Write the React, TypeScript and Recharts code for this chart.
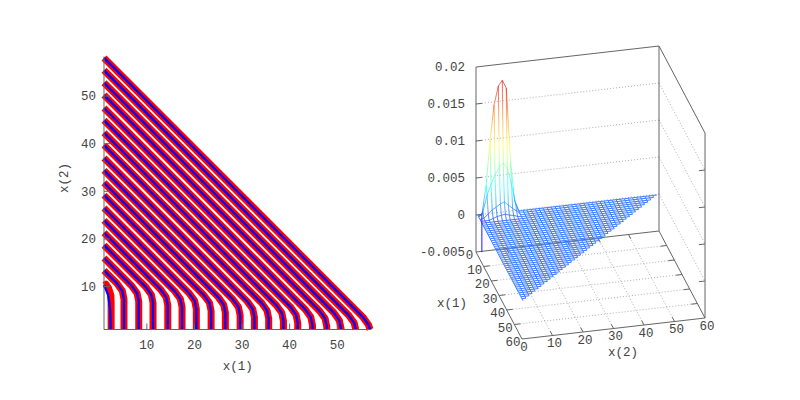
import { ComposedChart, LineChart, Line, Area, XAxis, YAxis, ReferenceDot } from "recharts";

const FONT = "Liberation Mono";
const FONT_SIZE = 12.5;
const TEXT = "#444";
const AXIS = "#666";

// left panel: streamlines, one x and one y list per curve
const streamX = [
  [1, 3.7, 4.85, 5.2, 5.2],
  [1, 6.8, 7.95, 8.3, 8.3],
  [1, 9.8, 10.95, 11.3, 11.3],
  [1, 12.9, 14.05, 14.4, 14.4],
  [1, 15.9, 17.05, 17.4, 17.4],
  [1, 18.9, 20.05, 20.4, 20.4],
  [1, 22.0, 23.15, 23.5, 23.5],
  [1, 25.0, 26.15, 26.5, 26.5],
  [1, 28.1, 29.25, 29.6, 29.6],
  [1, 31.1, 32.25, 32.6, 32.6],
  [1, 34.1, 35.25, 35.6, 35.6],
  [1, 37.2, 38.35, 38.7, 38.7],
  [1, 40.2, 41.35, 41.7, 41.7],
  [1, 43.3, 44.45, 44.8, 44.8],
  [1, 46.3, 47.45, 47.8, 47.8],
  [1, 49.3, 50.45, 50.8, 50.8],
  [1, 52.4, 53.55, 53.9],
  [1, 55.4, 56.55, 56.9],
];
const streamY = [
  [13.4, 10.7, 9.1, 7.4, 1],
  [16.0, 10.2, 8.6, 6.9, 1],
  [18.7, 9.9, 8.3, 6.6, 1],
  [21.3, 9.4, 7.8, 6.1, 1],
  [23.9, 9.0, 7.4, 5.7, 1],
  [26.5, 8.6, 7.0, 5.3, 1],
  [29.2, 8.2, 6.6, 4.9, 1],
  [31.8, 7.8, 6.2, 4.5, 1],
  [34.4, 7.3, 5.7, 4.0, 1],
  [37.0, 6.9, 5.3, 3.6, 1],
  [39.7, 6.6, 5.0, 3.3, 1],
  [42.3, 6.1, 4.5, 2.8, 1],
  [44.9, 5.7, 4.1, 2.4, 1],
  [47.5, 5.2, 3.6, 1.9, 1],
  [50.2, 4.9, 3.3, 1.6, 1],
  [52.8, 4.5, 2.9, 1.2, 1],
  [55.4, 4.0, 2.4, 1],
  [58.0, 3.6, 2.0, 1],
];
// the shortest curve: red and blue part ways here
const firstRedX = [1.05, 1.4, 2.0, 2.45, 2.5, 2.5];
const firstRedY = [10.3, 10.5, 9.6, 8.2, 6.5, 1];
const firstBlueX = [1, 1.87, 2.3, 2.4];
const firstBlueY = [10.35, 8.26, 5.1, 1];

const leftXTicks = [10, 20, 30, 40, 50];
const leftYTicks = [10, 20, 30, 40, 50];

// right panel: mesh levels and the z values of the peak
const meshLevels = [
  0.5, 1.8, 3.2, 4.5, 5.8, 7.2, 8.5, 9.8, 11.2, 12.5, 13.8, 15.2, 16.5, 17.8, 19.2, 20.5, 21.8, 23.2, 24.5, 25.8, 27.2,
  28.5, 29.8, 31.2, 32.5, 33.8, 35.2, 36.5, 37.8, 39.2, 40.5, 41.8, 43.2, 44.5, 45.8, 47.2, 48.5, 49.8, 51.2, 52.5,
  53.8, 55.2, 56.5, 57.8, 59.2,
];
const peakZ = [
  [0, 0, 0.004, 0.01, 0.0147, 0.0172, 0.0179, 0.0168, 0.0069, 0.0015, 0, 0],
  [0, 0.0007, 0.0029, 0.0043, 0.0055, 0.0065, 0.007, 0.0062, 0.0039, 0.0014, 0.0001, 0],
  [0, 0.0001, 0.0006, 0.0011, 0.0014, 0.0018, 0.002, 0.0015, 0.001, 0.0006, 0, 0],
  [0, 0, 0, 0.0002, 0.0004, 0.0005, 0.0006, 0.0004, 0.0003, 0.0001, 0, 0],
];
const spikeZ = [0, -0.005];
const axisTicks3d = [0, 10, 20, 30, 40, 50, 60];
const zTicks = [-0.005, 0, 0.005, 0.01, 0.015, 0.02];
const zLabels = ["-0.005", "0", "0.005", "0.01", "0.015", "0.02"];

const Z_MIN = -0.005;
const Z_MAX = 0.02;

const project = (x1: number, x2: number, z: number) => ({
  px: 476 + 3.05 * x2 + 0.767 * x1,
  py: 252 + 1.45 * x1 - 0.35 * x2 - 7400 * (z - Z_MIN),
});

type Pt = { px: number; py: number };
const seg = (a: number[], b: number[]): Pt[] => [project(a[0], a[1], a[2]), project(b[0], b[1], b[2])];

const zAt = (i: number, j: number) => peakZ[i]?.[j] ?? 0;
const meshPoint = (i: number, j: number) => project(meshLevels[i], meshLevels[j], zAt(i, j));
const last = meshLevels.length - 1;

const flatLines: Pt[][] = [];
const peakLines: Pt[][] = [];
for (let i = 0; i <= last; i++) {
  const row: Pt[] = [];
  const rowPeak: Pt[] = [];
  for (let j = 0; j <= last - i; j++) {
    if (i < peakZ.length && j <= 11) rowPeak.push(meshPoint(i, j));
    if (i >= peakZ.length || j >= 11) row.push(meshPoint(i, j));
  }
  if (row.length > 1) flatLines.push(row);
  if (rowPeak.length > 1) peakLines.push(rowPeak);
}
for (let j = 0; j <= last; j++) {
  const col: Pt[] = [];
  const colPeak: Pt[] = [];
  for (let i = 0; i <= last - j; i++) {
    if (j < 11 && i <= peakZ.length) colPeak.push(meshPoint(i, j));
    if (j >= 11 || i >= peakZ.length) col.push(meshPoint(i, j));
  }
  if (col.length > 1) flatLines.push(col);
  if (colPeak.length > 1) peakLines.push(colPeak);
}

// white faces that hide the grid behind the surface
const peakFace = peakZ[0].map((_, j) => {
  const top = meshPoint(0, j);
  return { px: top.px, range: [project(meshLevels[0], meshLevels[j], 0).py + 4, top.py] };
});
const cornerA = meshPoint(0, 0);
const cornerB = meshPoint(last, 0);
const cornerC = meshPoint(0, last);
const upperAtB = cornerA.py + ((cornerC.py - cornerA.py) * (cornerB.px - cornerA.px)) / (cornerC.px - cornerA.px);
const planeFace = [
  { px: cornerA.px, range: [cornerA.py, cornerA.py] },
  { px: cornerB.px, range: [cornerB.py, upperAtB] },
  { px: cornerC.px, range: [cornerC.py, cornerC.py] },
];

const gridLines: Pt[][] = [];
const tickLines: Pt[][] = [];
zTicks.forEach((z) => {
  if (z > Z_MIN && z < Z_MAX) {
    gridLines.push(seg([0, 0, z], [0, 60, z]));
    gridLines.push(seg([0, 60, z], [60, 60, z]));
    tickLines.push(seg([0, 0, z], [0, 2, z]));
    tickLines.push(seg([60, 60, z], [60, 58, z]));
  }
});
axisTicks3d.slice(1, -1).forEach((t) => {
  gridLines.push(seg([t, 0, Z_MIN], [t, 60, Z_MIN]));
  gridLines.push(seg([0, t, Z_MIN], [60, t, Z_MIN]));
  tickLines.push(seg([t, 0, Z_MIN], [t, 2, Z_MIN]));
  tickLines.push(seg([t, 60, Z_MIN], [t, 58, Z_MIN]));
  tickLines.push(seg([60, t, Z_MIN], [57, t, Z_MIN]));
  tickLines.push(seg([0, t, Z_MIN], [3, t, Z_MIN]));
});

const boxLines: Pt[][] = [
  seg([0, 0, Z_MIN], [0, 0, Z_MAX]),
  seg([0, 60, Z_MIN], [0, 60, Z_MAX]),
  seg([60, 60, Z_MIN], [60, 60, Z_MAX]),
  seg([0, 0, Z_MAX], [0, 60, Z_MAX]),
  seg([0, 60, Z_MAX], [60, 60, Z_MAX]),
  seg([0, 0, Z_MIN], [60, 0, Z_MIN]),
  seg([60, 0, Z_MIN], [60, 60, Z_MIN]),
  seg([60, 60, Z_MIN], [0, 60, Z_MIN]),
  seg([0, 60, Z_MIN], [0, 0, Z_MIN]),
];

const spike = spikeZ.map((z) => project(meshLevels[0], meshLevels[1], z));

const textProps = { fontFamily: FONT, fontSize: FONT_SIZE, fill: TEXT };

function StreamPanel() {
  const curves = [
    { red: firstRedX.map((x, i) => ({ x, y: firstRedY[i] })), blue: firstBlueX.map((x, i) => ({ x, y: firstBlueY[i] })) },
    ...streamX.map((xs, k) => {
      const pts = xs.map((x, i) => ({ x, y: streamY[k][i] }));
      return { red: pts, blue: pts };
    }),
  ];
  return (
    <LineChart
      width={400}
      height={400}
      margin={{ top: 56.5, right: 28.5, bottom: 40.5, left: 64 }}
      style={{ position: "absolute", left: 0, top: 0 }}
    >
      <XAxis
        xAxisId="top"
        orientation="top"
        type="number"
        dataKey="x"
        domain={[1, 57.2]}
        ticks={leftXTicks}
        height={0}
        tick={false}
        tickSize={-6}
        stroke={AXIS}
      />
      <YAxis
        yAxisId="right"
        orientation="right"
        type="number"
        domain={[1, 58.3]}
        ticks={leftYTicks}
        width={0}
        tick={false}
        tickSize={-6}
        stroke={AXIS}
      />
      <XAxis
        type="number"
        dataKey="x"
        domain={[1, 57.2]}
        ticks={leftXTicks}
        height={30}
        tickSize={-6}
        tickMargin={16.5}
        stroke={AXIS}
        tick={textProps}
        label={{ value: "x(1)", position: "insideBottom", offset: -10.5, ...textProps }}
      />
      <YAxis
        type="number"
        domain={[1, 58.3]}
        ticks={leftYTicks}
        width={40}
        tickSize={-6}
        tickMargin={14}
        stroke={AXIS}
        tick={textProps}
        label={{ value: "x(2)", angle: -90, position: "insideLeft", offset: 0, ...textProps }}
      />
      {curves.flatMap((c, k) => [
        <Line key={`r${k}`} data={c.red} dataKey="y" stroke="#ff0000" strokeWidth={7} strokeLinejoin="round" dot={false} isAnimationActive={false} />,
        <Line key={`b${k}`} data={c.blue} dataKey="y" stroke="#0000ff" strokeWidth={2.3} dot={false} isAnimationActive={false} />,
      ])}
    </LineChart>
  );
}

function SurfacePanel() {
  const line3d = (data: Pt[], key: string, stroke: string, width: number, dash?: string) => (
    <Line
      key={key}
      data={data}
      dataKey="py"
      stroke={stroke}
      strokeWidth={width}
      strokeDasharray={dash}
      dot={false}
      isAnimationActive={false}
    />
  );
  const dot = (x: number, y: number, value: string, key: string, position: "center" | "left" = "center") => (
    <ReferenceDot
      key={key}
      x={x}
      y={y}
      r={0}
      fill="none"
      stroke="none"
      label={{ value, position, offset: 0, ...textProps }}
    />
  );
  return (
    <ComposedChart
      width={400}
      height={400}
      margin={{ top: 0, right: 0, bottom: 0, left: 0 }}
      style={{ position: "absolute", left: 400, top: 0 }}
    >
      <defs>
        <linearGradient id="jet" gradientUnits="userSpaceOnUse" x1="0" y1="80" x2="0" y2="252">
          <stop offset="0" stopColor="#d02020" />
          <stop offset="0.125" stopColor="#ff5020" />
          <stop offset="0.375" stopColor="#ffff40" />
          <stop offset="0.625" stopColor="#20ffff" />
          <stop offset="0.875" stopColor="#0000ff" />
          <stop offset="1" stopColor="#00007f" />
        </linearGradient>
      </defs>
      <XAxis hide type="number" dataKey="px" domain={[400, 800]} />
      <YAxis hide type="number" domain={[0, 400]} reversed />
      {gridLines.map((g, i) => line3d(g, `g${i}`, "#999", 0.8, "1 2"))}
      {boxLines.slice(0, 5).map((g, i) => line3d(g, `bb${i}`, AXIS, 1))}
      {boxLines.slice(5).map((g, i) => line3d(g, `bf${i}`, AXIS, 1))}
      {tickLines.map((g, i) => line3d(g, `t${i}`, AXIS, 1))}
      <Area data={planeFace} dataKey="range" fill="#fff" fillOpacity={1} stroke="none" dot={false} isAnimationActive={false} />
      <Area data={peakFace} dataKey="range" fill="#fff" fillOpacity={1} stroke="none" dot={false} isAnimationActive={false} />
      {flatLines.map((g, i) => line3d(g, `f${i}`, "#3a7bff", 1))}
      {peakLines.map((g, i) => line3d(g, `p${i}`, "url(#jet)", 0.7))}
      {line3d(spike, "spike", "#1a1aff", 1)}
      {zTicks.map((z, i) => dot(465, project(0, 0, z).py, zLabels[i], `zl${i}`, "left"))}
      {axisTicks3d.map((t) => {
        const p = project(t, 0, Z_MIN);
        return dot(t === 0 ? p.px - 6.5 : p.px - 9, p.py + 3, String(t), `x1l${t}`);
      })}
      {axisTicks3d.map((t) => {
        const p = project(60, t, Z_MIN);
        return dot(p.px + 2, p.py + 7.5, String(t), `x2l${t}`);
      })}
      {dot(452, 303, "x(1)", "x1label")}
      {dot(623, 352, "x(2)", "x2label")}
    </ComposedChart>
  );
}

export default function App() {
  return (
    <div style={{ position: "absolute", left: 0, top: 0, width: 800, height: 400, background: "#fff" }}>
      <StreamPanel />
      <SurfacePanel />
    </div>
  );
}
